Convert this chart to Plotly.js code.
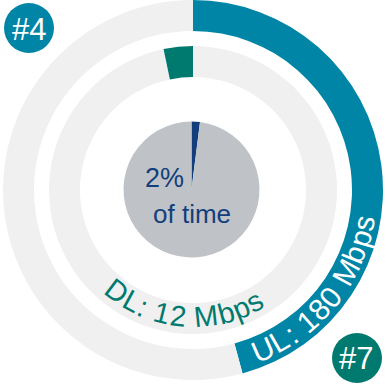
<!DOCTYPE html>
<html>
<head>
<meta charset="utf-8">
<script src="https://cdn.plot.ly/plotly-3.0.1.min.js"></script>
<style>html,body{margin:0;padding:0;background:#fff;}#chart{width:388px;height:384px;}</style>
</head>
<body>
<div id="chart"></div>
<script>
// ---- data ----
const ulLabels = ["UL", "rest"];
const ulValues = [180, 213];      // upload ring (outer)
const dlLabels = ["rest", "DL"];
const dlValues = [354, 12];       // download ring (inner), DL slice ends at 12 o'clock
const timeLabels = ["share", "rest"];
const timeValues = [2, 98];       // % of time (centre pie)
const ulLabel = "UL: 180 Mbps";
const dlLabel = "DL: 12 Mbps";
const centreLines = ["2%", "of time"];
const badgeLabels = ["#4", "#7"];

// ---- styling ----
const W = 388, H = 384;
const BLUE = "#0085a6", TEAL = "#007a6f", NAVY = "#123f7c";
const RING = "#f0f0f0", PIEGRAY = "#bfc3c7";
const FONT = '"Liberation Sans", Arial, sans-serif';

const px = x => x / W;
const py = y => 1 - y / H;
function dom(cx, cy, r) {
  return {x: [px(cx - r), px(cx + r)], y: [py(cy + r), py(cy - r)]};
}

const C = {x: 193, y: 190};

const traces = [
  {type: "pie", values: ulValues, labels: ulLabels, sort: false, direction: "clockwise", rotation: 0,
   hole: 159 / 190, domain: dom(C.x, C.y, 190), textinfo: "none", hoverinfo: "none", showlegend: false,
   marker: {colors: [BLUE, RING], line: {width: 0}}},
  {type: "pie", values: dlValues, labels: dlLabels, sort: false, direction: "clockwise", rotation: 0,
   hole: 113 / 144, domain: dom(C.x, C.y, 144), textinfo: "none", hoverinfo: "none", showlegend: false,
   marker: {colors: [RING, TEAL], line: {width: 0}}},
  {type: "pie", values: timeValues, labels: timeLabels, sort: false, direction: "clockwise", rotation: 0,
   domain: dom(191.5, 189.5, 68), textinfo: "none", hoverinfo: "none", showlegend: false,
   marker: {colors: [NAVY, PIEGRAY], line: {width: 0}}}
];

// measure text for curved labels
const cv = document.createElement("canvas").getContext("2d");
function arcText(str, cx, cy, r, phiMid, size, color) {
  cv.font = size + "px " + FONT;
  const widths = [...str].map(ch => cv.measureText(ch).width);
  const centres = [];
  let acc = 0;
  widths.forEach((w, i) => { centres.push(acc + w / 2); acc += w; });
  const L = centres[centres.length - 1] - centres[0];
  const out = [];
  [...str].forEach((ch, i) => {
    if (ch === " ") return;
    const s = centres[i] - centres[0];
    const phi = phiMid + (L / 2 - s) / r * 180 / Math.PI;
    const a = phi * Math.PI / 180;
    out.push({
      xref: "paper", yref: "paper", x: px(cx + r * Math.sin(a)), y: py(cy - r * Math.cos(a)),
      text: ch, showarrow: false, xanchor: "center", yanchor: "middle",
      textangle: phi - 180, font: {family: FONT, size: size, color: color}
    });
  });
  return out;
}

const annotations = [
  ...arcText(dlLabel, C.x, C.y, 127, 183.9, 29, TEAL),
  ...arcText(ulLabel, C.x, C.y, 174, 128.6, 30, "#ffffff"),
  {xref: "paper", yref: "paper", x: px(164), y: py(178), text: centreLines[0], showarrow: false,
   xanchor: "center", yanchor: "middle", font: {family: FONT, size: 27, color: NAVY}},
  {xref: "paper", yref: "paper", x: px(191.5), y: py(214), text: centreLines[1], showarrow: false,
   xanchor: "center", yanchor: "middle", font: {family: FONT, size: 26, color: NAVY}},
  {xref: "paper", yref: "paper", x: px(29), y: py(29), text: badgeLabels[0], showarrow: false,
   xanchor: "center", yanchor: "middle", font: {family: FONT, size: 31, color: "#ffffff"}},
  {xref: "paper", yref: "paper", x: px(356), y: py(358), text: badgeLabels[1], showarrow: false,
   xanchor: "center", yanchor: "middle", font: {family: FONT, size: 31, color: "#ffffff"}}
];

const shapes = [
  {type: "circle", xref: "paper", yref: "paper", x0: px(4), x1: px(54), y0: py(53), y1: py(3),
   fillcolor: BLUE, line: {width: 0}, layer: "above"},
  {type: "circle", xref: "paper", yref: "paper", x0: px(332), x1: px(382), y0: py(383), y1: py(333),
   fillcolor: TEAL, line: {width: 0}, layer: "above"}
];

const layout = {
  width: W, height: H, margin: {l: 0, r: 0, t: 0, b: 0},
  paper_bgcolor: "#ffffff", plot_bgcolor: "#ffffff", showlegend: false,
  annotations: annotations, shapes: shapes
};

Plotly.newPlot("chart", traces, layout, {staticPlot: true, displayModeBar: false});
</script>
</body>
</html>
